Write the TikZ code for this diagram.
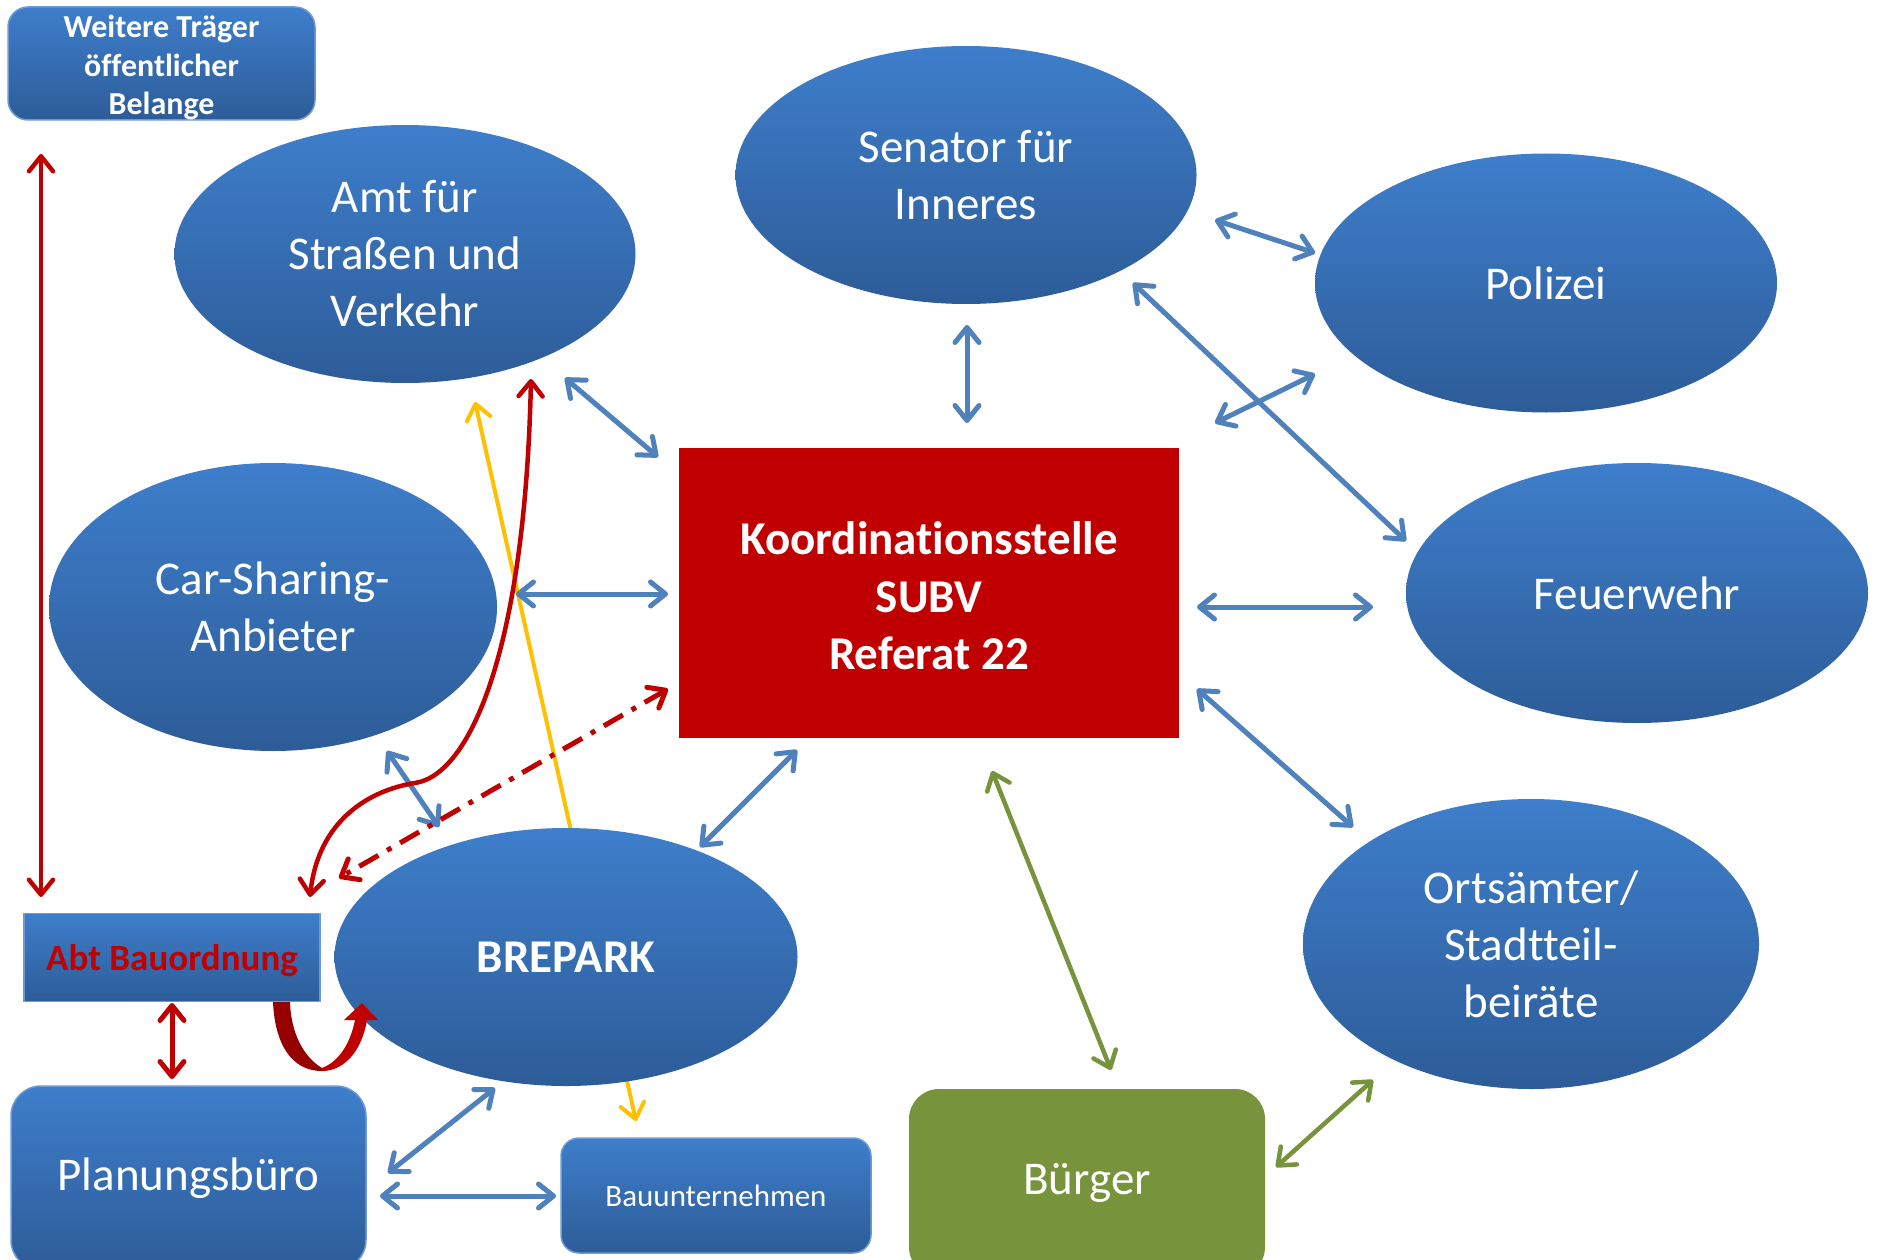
\documentclass[tikz,border=0pt]{standalone}
\usepackage{fontspec}
\setmainfont{Carlito}[Ligatures=NoCommon]
\usetikzlibrary{shapes.geometric,arrows.meta}
\definecolor{btop}{RGB}{62,126,203}
\definecolor{bbot}{RGB}{45,92,152}
\definecolor{bedge}{RGB}{110,155,215}
\definecolor{ablue}{RGB}{79,129,189}
\definecolor{kred}{RGB}{192,0,0}
\definecolor{dred}{RGB}{150,0,0}
\definecolor{kgreen}{RGB}{119,147,60}
\definecolor{kyellow}{RGB}{255,192,0}
\begin{document}
\begin{tikzpicture}[x=1pt,y=-1pt,
  >={Straight Barb[length=15pt,width=24pt,round]},
  oval/.style={ellipse, inner sep=0pt, top color=btop, bottom color=bbot, text=white, align=center, font=\fontsize{47}{57}\selectfont},
  bbox/.style={rectangle, inner sep=0pt, top color=btop, bottom color=bbot, draw=bedge, line width=1.5pt, text=white, align=center},
  bl/.style={draw=ablue, line width=5pt, <->},
  rd/.style={draw=kred, line width=4.5pt, <->},
  gr/.style={draw=kgreen, line width=4.5pt, <->},
  yl/.style={draw=kyellow, line width=4pt, <->}
]
\useasboundingbox (0,0) rectangle (1878,1260);
\fill[white] (0,0) rectangle (1878,1260);

% yellow line behind BREPARK
\coordinate (y1) at (475,402);
\coordinate (y2) at (636,1121);
\draw[yl] (y1) -- (y2);

% nodes
\node[bbox, rounded corners=20pt, minimum width=307pt, minimum height=113pt] (wtb) at (161.5,63.5) {};
\node[text=white, align=center, inner sep=0pt, font=\bfseries\fontsize{32}{38.5}\selectfont] (wtbt) at (161.5,67.5) {Weitere Träger\\öffentlicher\\Belange};
\node[oval, minimum width=461pt, minimum height=258pt] (amt) at (405,254) {Amt für\\Straßen und\\Verkehr};
\node[oval, minimum width=461pt, minimum height=258pt] (sen) at (966,175) {Senator für\\Inneres};
\node[oval, minimum width=462pt, minimum height=259pt] (pol) at (1546,283) {Polizei};
\node[oval, minimum width=448pt, minimum height=288pt] (car) at (273,607) {Car-Sharing-\\Anbieter};
\node[rectangle, fill=kred, inner sep=0pt, minimum width=500pt, minimum height=290pt] (kor) at (929,593) {};
\node[text=white, align=center, inner sep=0pt,
      font=\bfseries\fontsize{47}{57.5}\selectfont] (kort) at (929,596) {Koordinationsstelle\\SUBV\\Referat 22};
\node[oval, minimum width=462pt, minimum height=260pt] (feu) at (1637,593) {Feuerwehr};
\node[oval, minimum width=463pt, minimum height=258pt, font=\bfseries\fontsize{47}{57}\selectfont] (bre) at (566,957) {BREPARK};
\node[oval, minimum width=456pt, minimum height=290pt] (ort) at (1531,944) {Ortsämter/\\Stadtteil-\\beiräte};
\node[bbox, minimum width=296pt, minimum height=88pt] (abt) at (172,957.5) {};
\node[text=kred, inner sep=0pt, font=\bfseries\fontsize{37}{44}\selectfont] (abtt) at (172,961) {Abt Bauordnung};
\node[bbox, rounded corners=30pt, minimum width=355pt, minimum height=184pt,
      font=\fontsize{47}{57}\selectfont] (plan) at (188.5,1178) {Planungsbüro};
\node[bbox, rounded corners=18pt, minimum width=310pt, minimum height=115pt,
      font=\fontsize{31}{38}\selectfont] (bau) at (716,1195.5) {Bauunternehmen};
\node[rectangle, rounded corners=30pt, fill=kgreen, inner sep=0pt, minimum width=356pt, minimum height=188pt,
      text=white, font=\fontsize{47}{57}\selectfont] (bur) at (1087,1183) {Bürger};

% connector end points
\coordinate (r1a) at (41,154);   \coordinate (r1b) at (41,897);
\coordinate (b1a) at (565,378);  \coordinate (b1b) at (658,457);
\coordinate (b2a) at (967,325);  \coordinate (b2b) at (967,423);
\coordinate (b3a) at (1215,220); \coordinate (b3b) at (1315,253);
\coordinate (b4a) at (1133,283); \coordinate (b4b) at (1406,541);
\coordinate (b5a) at (1215,423); \coordinate (b5b) at (1315,374);
\coordinate (b6a) at (516,594);  \coordinate (b6b) at (668,594);
\coordinate (b7a) at (1197,607); \coordinate (b7b) at (1373,607);
\coordinate (b8a) at (1197,689); \coordinate (b8b) at (1353,827);
\coordinate (b9a) at (797,750);  \coordinate (b9b) at (700,847);
\coordinate (b10a) at (387,751); \coordinate (b10b) at (439,827);
\coordinate (b11a) at (495,1088); \coordinate (b11b) at (388,1173);
\coordinate (b12a) at (380,1196); \coordinate (b12b) at (556,1196);
\coordinate (g1a) at (992,771);  \coordinate (g1b) at (1111,1070);
\coordinate (g2a) at (1276,1167); \coordinate (g2b) at (1373,1080);
\coordinate (r2a) at (172,1003); \coordinate (r2b) at (172,1079);
\coordinate (d1a) at (668,689);  \coordinate (d1b) at (339,878);
\coordinate (c1a) at (310,897);  \coordinate (c1m) at (415,783); \coordinate (c1b) at (531,379);

% blue connectors
\draw[bl] (b1a) -- (b1b);
\draw[bl] (b2a) -- (b2b);
\draw[bl] (b3a) -- (b3b);
\draw[bl] (b4a) -- (b4b);
\draw[bl] (b5a) -- (b5b);
\draw[bl] (b6a) -- (b6b);
\draw[bl] (b7a) -- (b7b);
\draw[bl] (b8a) -- (b8b);
\draw[bl] (b9a) -- (b9b);
\draw[bl] (b10a) -- (b10b);
\draw[bl] (b11a) -- (b11b);
\draw[bl] (b12a) -- (b12b);

% green connectors
\draw[gr] (g1a) -- (g1b);
\draw[gr] (g2a) -- (g2b);

% red connectors
\draw[rd] (r1a) -- (r1b);
\draw[rd, line width=5pt] (r2a) -- (r2b);
\draw[rd, line width=5pt, dash pattern=on 22pt off 10pt on 5pt off 10pt] (d1a) -- (d1b);
\draw[rd, line width=4.5pt] (c1a) .. controls (318,820) and (370,790) .. (c1m)
      .. controls (470,775) and (525,650) .. (c1b);

% thick curved arrow from Abt Bauordnung to BREPARK
\fill[dred] (273,1002) .. controls (275,1045) and (292,1071) .. (322,1071)
      -- (322,1068) .. controls (305,1058) and (291,1035) .. (290,1002) -- cycle;
\fill[kred] (322,1071) .. controls (345,1071) and (362,1050) .. (367,1020)
      -- (378,1020) -- (362,1003) -- (344,1020) -- (355,1020)
      .. controls (350,1045) and (338,1062) .. (322,1068) -- cycle;
\end{tikzpicture}
\end{document}
